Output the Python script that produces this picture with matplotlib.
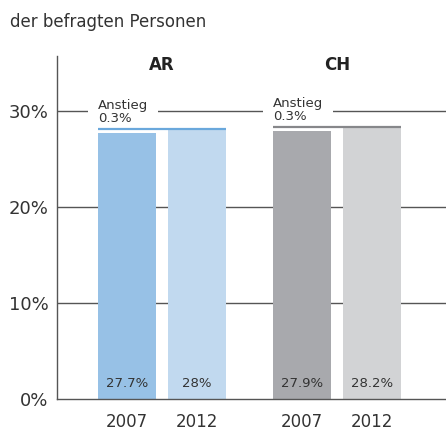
import matplotlib.pyplot as plt
import numpy as np

plt.rcParams['font.family'] = ['DejaVu Sans']

groups = ['AR', 'CH']
years = ['2007', '2012', '2007', '2012']
values = [27.7, 28.0, 27.9, 28.2]
labels = ['27.7%', '28%', '27.9%', '28.2%']
increase = ['0.3%', '0.3%']
yticks = [0, 10, 20, 30]

bar_colors = ['#97c1e6', '#c1d9ef', '#a8a9ad', '#d2d3d5']
line_colors = ['#6aa8dc', '#86878a']
txt = '#333333'

pos = np.array([0, 1, 2.5, 3.5])
w = 0.83

fig = plt.figure(figsize=(4.46, 4.30), dpi=100)
ax = fig.add_axes([57 / 446, 31 / 430, 389 / 446, 343 / 430])

for y in yticks[1:]:
    ax.axhline(y, color='#555555', lw=1, zorder=0)

ax.bar(pos, values, width=w, color=bar_colors, zorder=2)

for i, lab in enumerate(labels):
    ax.text(pos[i], 1.6, lab, ha='center', va='center', fontsize=9.5, color=txt, zorder=3)

for g in range(2):
    a, b = pos[2 * g], pos[2 * g + 1]
    top = values[2 * g + 1]
    ax.plot([a - w / 2, b + w / 2], [top + 0.15, top + 0.15], color=line_colors[g],
            lw=1.6, solid_capstyle='butt', zorder=4)
    ax.text(a - w / 2, top + 0.5, 'Anstieg\n' + increase[g], ha='left', va='bottom',
            fontsize=9.5, color=txt, linespacing=1.0, zorder=1.5,
            bbox=dict(facecolor='white', edgecolor='none', pad=7))
    ax.text((a + b) / 2, 34.8, groups[g], ha='center', va='center', fontsize=12,
            fontweight='bold', color='#222222')

ax.set_xlim(-1.0, 4.557)
ax.set_ylim(0, 35.7)
ax.set_xticks(pos)
ax.set_xticklabels(years, fontsize=12, color=txt)
ax.set_yticks(yticks)
ax.set_yticklabels([f'{t}%' for t in yticks], fontsize=13, color=txt)
ax.tick_params(length=0, pad=6)
ax.tick_params(axis='x', pad=10)
for s in ['top', 'right']:
    ax.spines[s].set_visible(False)
for s in ['left', 'bottom']:
    ax.spines[s].set_color('#555555')
    ax.spines[s].set_linewidth(1)

fig.text(10 / 446, 1 - 22 / 430, 'der befragten Personen', ha='left', va='center',
         fontsize=12, color=txt)

fig.savefig('out.png', dpi=100)
